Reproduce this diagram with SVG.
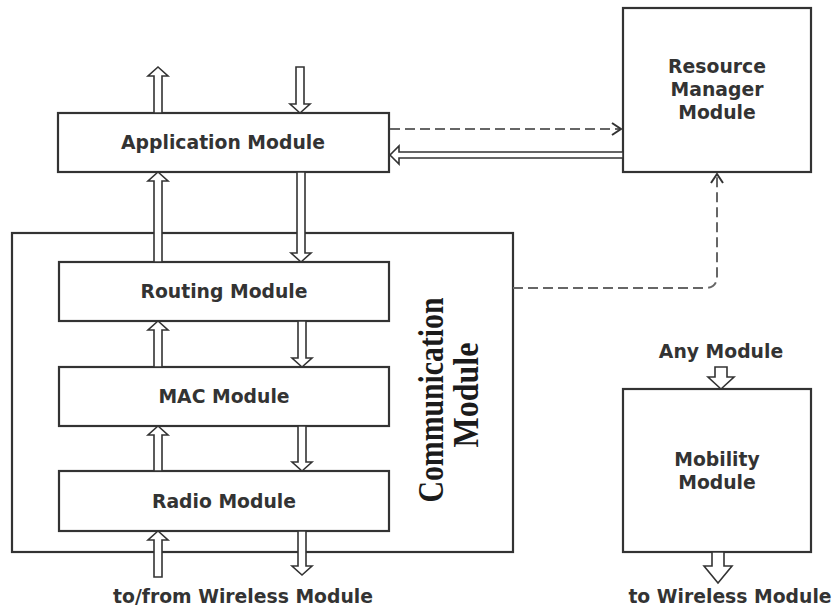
<svg xmlns="http://www.w3.org/2000/svg" width="833" height="608" viewBox="0 0 833 608">
<style>
.box{fill:#fff;stroke:#333;stroke-width:2.2}
.lbl{font-family:"DejaVu Sans",Verdana,sans-serif;font-weight:bold;font-size:18.8px;fill:#333;text-anchor:middle}
.arr{fill:#fff;stroke:#333;stroke-width:1.6;stroke-linejoin:miter}
.dash{fill:none;stroke:#666;stroke-width:2;stroke-dasharray:10,5}
.comm{font-family:"Liberation Serif","Times New Roman",serif;font-weight:bold;font-size:36px;fill:#1b1b1b;text-anchor:middle}
</style>
<defs>
<marker id="chev" markerWidth="14" markerHeight="14" refX="11" refY="7" orient="auto" markerUnits="userSpaceOnUse">
<path d="M2,1 L11,7 L2,13" fill="none" stroke="#333" stroke-width="2"/>
</marker>
</defs>
<rect width="833" height="608" fill="#fff"/>

<g id="communication-module">
<rect class="box" x="12" y="233" width="501" height="319"/>
<g transform="translate(443,400) rotate(-90)">
<text class="comm" x="0" y="0" textLength="205" lengthAdjust="spacingAndGlyphs">Communication</text>
<text class="comm" x="5" y="35" textLength="105" lengthAdjust="spacingAndGlyphs">Module</text>
</g>
</g>

<g id="application-module">
<rect class="box" x="58" y="113" width="331" height="59"/>
<text class="lbl" x="223" y="149">Application Module</text>
</g>
<g id="routing-module">
<rect class="box" x="59" y="262" width="330" height="59"/>
<text class="lbl" x="224" y="298">Routing Module</text>
</g>
<g id="mac-module">
<rect class="box" x="59" y="367" width="330" height="59"/>
<text class="lbl" x="224" y="403">MAC Module</text>
</g>
<g id="radio-module">
<rect class="box" x="59" y="471" width="330" height="60"/>
<text class="lbl" x="224" y="508">Radio Module</text>
</g>
<g id="resource-manager-module">
<rect class="box" x="623" y="8" width="188" height="164"/>
<text class="lbl" x="717" y="73">Resource</text>
<text class="lbl" x="717" y="96">Manager</text>
<text class="lbl" x="717" y="119">Module</text>
</g>
<g id="mobility-module">
<rect class="box" x="623" y="389" width="188" height="163"/>
<text class="lbl" x="717" y="466">Mobility</text>
<text class="lbl" x="717" y="489">Module</text>
</g>
<g id="labels">
<text class="lbl" x="243" y="603">to/from Wireless Module</text>
<text class="lbl" x="721" y="358">Any Module</text>
<text class="lbl" x="730" y="603">to Wireless Module</text>
</g>

<g id="connectors">
<path class="arr" d="M154,113 L154,76 L148,76 L158,67 L168,76 L162,76 L162,113 Z"/>
<path class="arr" d="M154,262 L154,181 L148,181 L158,172 L168,181 L162,181 L162,262 Z"/>
<path class="arr" d="M154,367 L154,330 L148,330 L158,321 L168,330 L162,330 L162,367 Z"/>
<path class="arr" d="M154,471 L154,435 L148,435 L158,426 L168,435 L162,435 L162,471 Z"/>
<path class="arr" d="M154,577 L154,540 L148,540 L158,531 L168,540 L162,540 L162,577 Z"/>
<path class="arr" d="M296,67 L296,104 L290,104 L300,113 L310,104 L304,104 L304,67 Z"/>
<path class="arr" d="M297,172 L297,253 L291,253 L301,262 L311,253 L305,253 L305,172 Z"/>
<path class="arr" d="M298,321 L298,358 L292,358 L302,367 L312,358 L306,358 L306,321 Z"/>
<path class="arr" d="M298,426 L298,462 L292,462 L302,471 L312,462 L306,462 L306,426 Z"/>
<path class="arr" d="M298,531 L298,566 L292,566 L302,575 L312,566 L306,566 L306,531 Z"/>
<path class="arr" d="M623,152 L399,152 L399,146 L390,155 L399,164 L399,158 L623,158 Z"/>
<path class="dash" d="M390,129 L621,129" marker-end="url(#chev)"/>
<path class="dash" d="M513,288 L705,288 Q717,288 717,276 L717,174" marker-end="url(#chev)"/>
<path class="arr" d="M715,367 L715,377 L708,377 L721,389 L734,377 L727,377 L727,367 Z"/>
<path class="arr" d="M712,552 L712,566 L704,566 L718,583 L732,566 L724,566 L724,552 Z"/>
</g>
</svg>
